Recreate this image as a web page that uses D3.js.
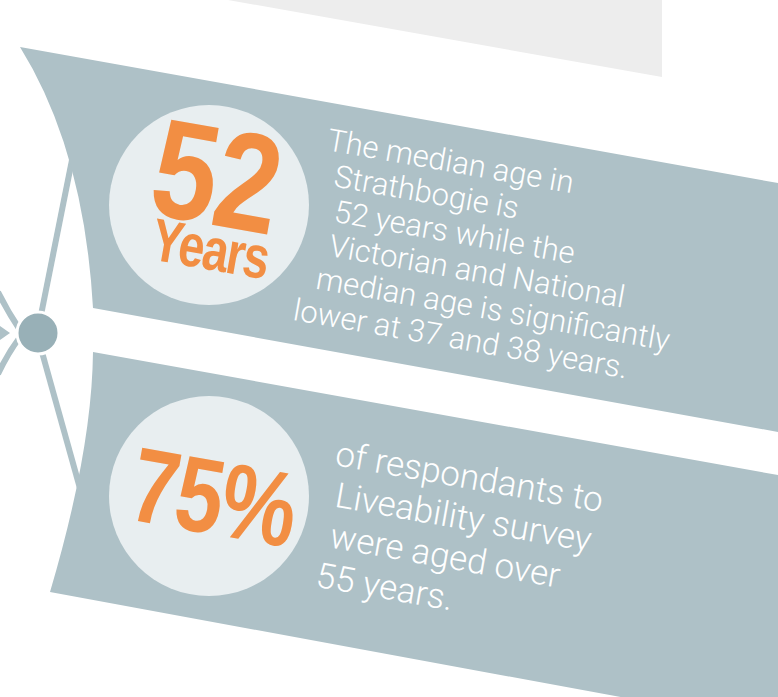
<!DOCTYPE html>
<html>
<head>
<meta charset="utf-8">
<script src="https://cdn.jsdelivr.net/npm/d3@7"></script>
<style>
  html, body { margin: 0; padding: 0; background: #fff; }
  svg { display: block; }
</style>
</head>
<body>
<svg id="info" width="778" height="697"></svg>
<script>
// Content
const headlines = ["52", "75%"];
const headlineUnit = "Years";
const ageLines = [
    "The median age in",
    "Strathbogie is",
    "52 years while the",
    "Victorian and National",
    "median age is significantly",
    "lower at 37 and 38 years."
];
const ageLineIndent = [0, 13, 19, 20, 13, -4];
const surveyLines = [
    "of respondants to",
    "Liveability survey",
    "were aged over",
    "55 years."
];
const surveyLineIndent = [0, 7, 9, 2];

const svg = d3.select("#info");
const band = "#aec1c7",
    disc = "#e8eef0",
    node = "#98b0b7",
    orange = "#f28e43";
const angle = 10;

// grey slab at the top
svg.append("path")
    .attr("d", "M228,0 L662,0 L662,77 Z")
    .attr("fill", "#ededed");

// spine lines behind the bands
const spine = svg.append("g")
    .attr("stroke", band)
    .attr("stroke-width", 6)
    .attr("fill", "none");
spine.append("line").attr("x1", 40).attr("y1", 320).attr("x2", 84).attr("y2", 100);
spine.append("line").attr("x1", 40).attr("y1", 345).attr("x2", 100).attr("y2", 560);
spine.append("path").attr("d", "M-2,292 Q8,312 20,330");
spine.append("path").attr("d", "M20,337 Q8,353 -2,374");
svg.append("path")
    .attr("d", "M0,326 L10,333 L0,340 Z")
    .attr("fill", band);

// the two bands
svg.append("path")
    .attr("d", "M20,47 L800,187 L800,436 L93,308 Q84,150 20,47 Z")
    .attr("fill", band);
svg.append("path")
    .attr("d", "M93,352 L800,479 L800,730 L50,592 Q92,450 93,352 Z")
    .attr("fill", band);

// node on the spine
svg.append("circle")
    .attr("cx", 38).attr("cy", 333).attr("r", 21)
    .attr("fill", node)
    .attr("stroke", "#fff")
    .attr("stroke-width", 3);

// discs
svg.selectAll("circle.disc")
    .data([[209, 205], [209, 496]])
    .enter()
    .append("circle")
    .attr("class", "disc")
    .attr("cx", d => d[0])
    .attr("cy", d => d[1])
    .attr("r", 100)
    .attr("fill", disc);

// big orange figures
function bigText(txt, x, y, size, sx) {
    svg.append("text")
        .attr("transform", `translate(${x},${y}) rotate(${angle}) scale(${sx},1)`)
        .attr("font-family", "'Liberation Sans', Arial, sans-serif")
        .attr("font-weight", "bold")
        .attr("font-size", size)
        .attr("letter-spacing", -2)
        .attr("fill", orange)
        .text(txt);
}
bigText(headlines[0], 146, 213, 140, 0.83);
bigText(headlineUnit, 149, 259, 60, 0.78);
bigText(headlines[1], 126, 519, 106, 0.8);

// white body text
function textBlock(lines, indent, x, y, size, lh) {
    const g = svg.append("g")
        .attr("transform", `translate(${x},${y}) rotate(${angle})`);
    g.selectAll("text")
        .data(lines)
        .enter()
        .append("text")
        .attr("x", (d, i) => indent[i])
        .attr("y", (d, i) => i * lh)
        .attr("font-family", "Roboto, 'Liberation Sans', sans-serif")
        .attr("font-weight", 300)
        .attr("font-size", size)
        .attr("fill", "#fff")
        .text(d => d);
}
textBlock(ageLines, ageLineIndent, 326, 150, 31, 34.6);
textBlock(surveyLines, surveyLineIndent, 334, 465, 35, 41);
</script>
</body>
</html>
